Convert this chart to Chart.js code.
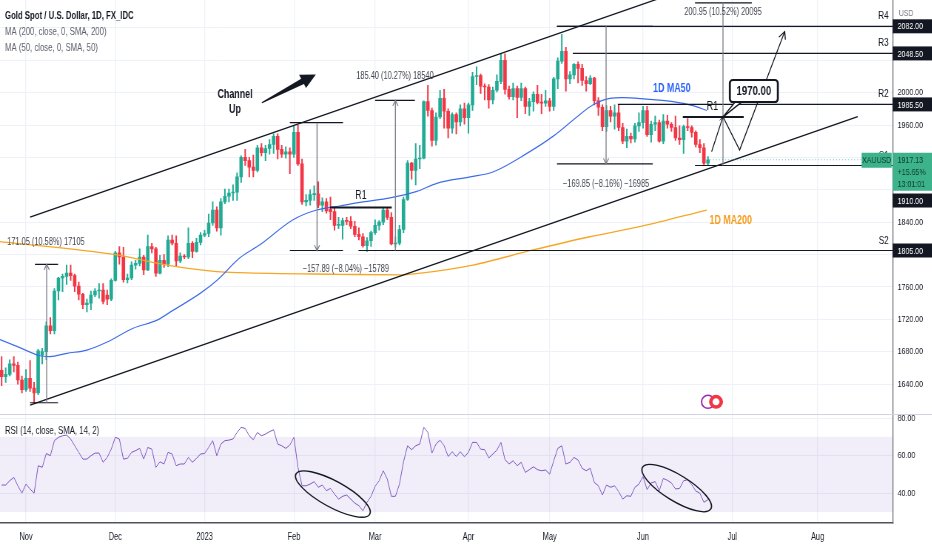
<!DOCTYPE html>
<html>
<head>
<meta charset="utf-8">
<script src="https://cdn.jsdelivr.net/npm/chart.js@4.4.1/dist/chart.umd.min.js"></script>
<style>
  html, body { margin: 0; padding: 0; background: #fff; }
  #wrap { position: relative; width: 932px; height: 550px; overflow: hidden; }
  canvas { position: absolute; left: 0; transform-origin: 0 0; }
  #priceCanvas { top: 0; }
  #rsiCanvas { top: 414px; }
</style>
</head>
<body>
<div id="wrap">
  <canvas id="priceCanvas"></canvas>
  <canvas id="rsiCanvas"></canvas>
</div>
<script>
const FONT = "'Liberation Sans', Arial, sans-serif";
const UP = '#22ab94';
const DOWN = '#f23645';
// the screenshot is squeezed sideways, so draw wider and squeeze the canvas
const SX = 0.74;
const W = Math.round(932 / SX);

// bar index 0 = 1 Nov 2022, one bar per weekday
const firstBar = -6;
const monthTicks = [0, 22, 44, 66, 86, 109, 129, 152, 174, 195];
const monthLabels = ['Nov', 'Dec', '2023', 'Feb', 'Mar', 'Apr', 'May', 'Jun', 'Jul', 'Aug'];
const priceTicks = [1640, 1680, 1720, 1760, 1800, 1840, 1880, 1920, 1960, 2000, 2040, 2080];
const hiddenPriceTicks = [1800, 1880, 1920, 2040, 2080];
const rsiTicks = [40, 60, 80];

// [open, high, low, close]
const candles = [
  // Oct 24 - Oct 31
  [1657,1674,1638,1649],[1649,1660,1642,1652],[1652,1670,1650,1665],[1665,1674,1655,1663],[1663,1667,1640,1645],[1645,1650,1629,1633],
  // Nov 1 - Nov 4
  [1633,1658,1631,1647],[1647,1669,1631,1635],[1635,1642,1617,1629],[1629,1683,1627,1681],
  [1676,1684,1665,1680],[1680,1717,1670,1712],[1712,1722,1702,1706],[1706,1758,1702,1755],[1755,1772,1744,1771],
  [1771,1776,1754,1773],[1773,1787,1763,1777],[1777,1787,1768,1774],[1774,1776,1754,1761],[1761,1766,1744,1751],
  [1751,1752,1733,1738],[1738,1745,1729,1740],[1740,1755,1732,1750],[1750,1758,1748,1755],[1755,1764,1746,1756],
  [1756,1764,1739,1742],[1750,1756,1738,1745],[1745,1770,1743,1768],[1768,1804,1767,1802],[1802,1810,1788,1797],
  // Dec
  [1797,1809,1766,1769],[1769,1776,1765,1771],[1771,1791,1769,1787],[1787,1793,1782,1789],[1789,1807,1786,1797],
  [1797,1799,1775,1781],[1781,1824,1780,1810],[1810,1814,1802,1807],[1807,1809,1773,1777],[1777,1799,1776,1793],
  [1793,1800,1784,1788],[1788,1823,1785,1818],[1818,1824,1812,1814],[1814,1823,1785,1792],[1792,1802,1790,1798],
  [1798,1800,1795,1797],[1797,1833,1795,1814],[1814,1816,1796,1804],[1804,1820,1803,1815],[1815,1827,1812,1824],
  // Jan
  [1824,1830,1822,1826],[1826,1850,1822,1839],[1839,1865,1836,1855],[1855,1859,1829,1833],[1833,1869,1824,1865],
  [1865,1881,1863,1872],[1872,1881,1865,1876],[1876,1886,1867,1877],[1877,1901,1867,1896],[1896,1922,1889,1920],
  [1920,1930,1910,1916],[1916,1920,1896,1908],[1908,1923,1896,1904],[1904,1935,1902,1932],[1932,1937,1922,1926],
  [1926,1935,1916,1931],[1931,1942,1924,1936],[1936,1949,1925,1946],[1946,1949,1918,1930],[1930,1935,1920,1924],
  [1924,1933,1919,1927],[1927,1932,1900,1924],[1924,1959,1920,1951],[1951,1960,1910,1912],[1912,1918,1862,1865],
  // Feb
  [1865,1874,1860,1867],[1867,1880,1861,1874],[1874,1885,1867,1875],[1875,1890,1858,1861],[1861,1870,1853,1865],
  [1865,1869,1851,1854],[1856,1871,1843,1853],[1853,1858,1830,1836],[1836,1846,1832,1836],[1836,1845,1819,1842],
  [1842,1846,1837,1841],[1841,1847,1832,1835],[1835,1841,1822,1825],[1825,1833,1818,1822],[1822,1826,1809,1811],
  [1811,1821,1804,1817],[1817,1829,1810,1827],[1827,1843,1825,1836],[1836,1842,1830,1840],[1840,1858,1837,1855],
  // Mar
  [1855,1858,1843,1846],[1846,1852,1812,1813],[1813,1822,1809,1814],[1814,1836,1812,1831],[1831,1871,1827,1868],
  [1868,1916,1867,1913],[1913,1914,1893,1904],[1904,1937,1886,1918],[1918,1935,1906,1919],[1919,1990,1918,1989],
  [1989,2009,1971,1978],[1978,1981,1934,1941],[1941,1975,1935,1970],[1970,2003,1968,1993],[1993,2004,1956,1977],
  [1977,1980,1944,1956],[1956,1975,1950,1973],[1973,1975,1949,1964],[1964,1985,1959,1980],[1980,1987,1961,1969],
  // Apr
  [1969,1987,1950,1985],[1985,2025,1978,2020],[2020,2032,2010,2021],[2021,2023,1999,2008],[2008,2011,1991,2007],
  [2007,2010,1981,1991],[1991,2007,1986,2003],[2003,2022,2001,2014],[2014,2048,2011,2040],[2040,2048,1998,2004],
  [2004,2008,1992,1995],[1995,2012,1991,2005],[2005,2008,1969,1994],[1994,2012,1990,2005],[2005,2007,1974,1983],
  [1983,1993,1972,1989],[1989,2001,1977,1998],[1998,2009,1986,1988],[1988,1998,1974,1987],[1987,2003,1983,1990],
  // May
  [1990,1993,1977,1983],[1983,2019,1978,2017],[2017,2043,2005,2039],[2039,2072,2036,2051],[2051,2056,2002,2017],
  [2017,2026,2011,2022],[2022,2036,2017,2035],[2035,2038,2012,2030],[2030,2035,2009,2015],[2015,2020,2002,2011],
  [2011,2021,2010,2018],[2018,2019,1985,1990],[1990,1994,1972,1982],[1982,1985,1953,1958],[1958,1984,1952,1978],
  [1978,1983,1964,1971],[1971,1985,1955,1975],[1975,1985,1953,1957],[1957,1962,1937,1940],[1940,1955,1932,1946],
  [1946,1950,1938,1943],[1943,1962,1939,1959],[1959,1975,1952,1963],[1963,1983,1956,1978],[1978,1983,1946,1948],
  // Jun
  [1948,1965,1939,1961],[1961,1971,1953,1963],[1963,1966,1939,1940],[1940,1973,1937,1965],[1965,1972,1956,1961],
  [1961,1963,1952,1957],[1957,1971,1941,1944],[1944,1959,1936,1942],[1942,1960,1925,1958],[1958,1968,1953,1957],
  [1957,1959,1945,1951],[1951,1953,1933,1936],[1936,1942,1926,1932],[1932,1937,1910,1913],[1913,1921,1911,1917.13]
];

// RSI(14), one value per bar
const rsiValues = [
  44.4, 44.4, 46.7, 48.5, 44.0, 40.1,
  44.9, 42.3, 40.1, 54.7, 53.8, 61.2, 60.0, 68.0, 69.8, 70.6,
  71.0, 68.9, 65.3, 61.8, 58.2, 58.2, 60.0, 61.4, 61.4, 56.5,
  59.1, 63.5, 69.8, 68.9, 58.2, 58.6, 61.8, 62.7, 63.9, 58.2,
  64.4, 63.5, 53.8, 56.8, 55.6, 61.8, 60.9, 54.7, 55.6, 55.6,
  59.1, 56.5, 58.6, 60.9, 61.2, 64.4, 68.0, 60.0, 66.2, 68.0,
  68.3, 68.9, 72.4, 75.1, 74.5, 70.6, 68.5, 72.4, 70.6, 71.5,
  72.8, 73.8, 66.2, 65.3, 63.9, 65.7, 69.8, 53.8, 44.0, 44.0,
  44.9, 46.2, 43.2, 44.4, 41.4, 42.6, 39.6, 36.9, 38.4, 39.1,
  36.9, 34.8, 33.4, 30.7, 35.2, 38.4, 43.7, 46.7, 52.0, 47.6,
  38.4, 38.4, 44.9, 56.8, 65.3, 63.2, 65.3, 66.2, 75.1, 72.4,
  61.4, 66.2, 68.3, 65.3, 59.6, 62.1, 59.6, 62.1, 59.5, 61.8,
  67.1, 67.1, 63.5, 63.2, 58.8, 60.9, 63.0, 67.1, 57.9, 55.6,
  57.3, 54.7, 56.5, 51.1, 52.6, 54.1, 52.6, 52.0, 52.4, 50.2,
  57.3, 63.9, 65.3, 55.6, 56.5, 59.1, 57.7, 53.3, 52.0, 53.3,
  45.8, 44.0, 39.1, 44.4, 43.2, 44.0, 40.9, 36.9, 38.7, 38.4,
  43.2, 44.9, 49.0, 41.9, 45.5, 46.2, 41.4, 47.9, 46.9, 45.5,
  42.3, 42.6, 46.7, 47.2, 44.6, 41.2, 40.1, 35.2, 36.6
];

// moving averages: [bar index, price]
const ma50Points = [
  [-6.4,1695],[-1.5,1685],[3.4,1675],[5.9,1674],[10.1,1678],[15,1682],[20,1692],[26.4,1709],
  [32.3,1719],[36.2,1731],[42.9,1752],[47,1768],[52.7,1796],[57.6,1812],[65.8,1843],[71.6,1855],
  [77.3,1860],[83,1865],[89.7,1870],[96.3,1878],[101.2,1888],[109.4,1896],[115,1902],[123.4,1925],
  [129.8,1946],[135.7,1970],[139.7,1985],[143.8,1993],[147,1994],[152.9,1992],[159.4,1989],
  [164.3,1984],[167.7,1978]
];
const ma200Points = [
  [-6.4,1816],[22.4,1799.5],[34.7,1787],[47,1779],[52.7,1777.6],[77.3,1775.6],[92.1,1774.8],
  [96.2,1776.4],[110.1,1787],[124.9,1805.7],[138.9,1822],[151.2,1834.4],[167.7,1855]
];

// drawings, in [bar index, price]
const channelLines = [
  [[1, 1846.2], [160, 2123.4]],
  [[1, 1614.1], [204.9, 1970.3]]
];
const levels = [
  { name: 'R4', price: 2082, from: 130.8 },
  { name: 'R3', price: 2048.5, from: 134.7 },
  { name: 'R2', price: 1985.5, from: 145.8 },
  { name: 'S1', price: 1910, from: 164.8 },
  { name: 'S2', price: 1805, from: 81.9 }
];
const measures = [
  { top: 1787.95, bottom: 1616.9, topFrom: 2.2, bottomFrom: 1, to: 7.9, xv: 5.1, dir: 'up',
    label: '171.05 (10.58%) 17105', lx: 4.9, ly: 1814.7 },
  { top: 1962.89, bottom: 1805, topFrom: 65, bottomFrom: 65, to: 78.1, xv: 71.7, dir: 'down',
    label: '\u2212157.89 (\u22128.04%) \u221215789', lx: 78.8, ly: 1782.2 },
  { top: 1990.4, bottom: 1805, topFrom: 86, bottomFrom: null, to: 95.8, xv: 91, dir: 'up',
    label: '185.40 (10.27%) 18540', lx: 90.9, ly: 2019.8 },
  { top: 2082, bottom: 1912.15, topFrom: 130.8, bottomFrom: 130.8, to: 154.4, xv: 142.9, dir: 'down',
    label: '\u2212169.85 (\u22128.16%) \u221216985', lx: 142.9, ly: 1886.6 },
  { top: 2110.95, bottom: 1910, topFrom: 164.8, bottomFrom: null, to: 178.8, xv: 171.7, dir: null,
    label: '200.95 (10.52%) 20095', lx: 171.7, ly: 2099.5 }
];
const r1Lines = [
  { from: 74.9, to: 90.1, price: 1858.2, lx: 82.5, ly: 1872.4 },
  { from: 161.8, to: 176.8, price: 1970, lx: 169.1, ly: 1982.7 }
];
const projection = [[168.9, 1927.1], [171.7, 1970.3], [175.8, 1929.2], [186.9, 2075.4]];
const target = { text: '1970.00', x: 179.3, y: 2002, px: 171.7, py: 1970 };
const axisBoxes = [
  { text: '2082.00', price: 2082, shift: 0 },
  { text: '2048.50', price: 2048.5, shift: 0 },
  { text: '1985.50', price: 1985.5, shift: 0 },
  { text: '1910.00', price: 1910, shift: 35 },
  { text: '1805.00', price: 1805, shift: 0 }
];
const lastPrice = 1917.13;
const lastChange = '+15.65%';
const countdown = '13:01:01';

const X_MIN = -6.4, X_MAX = 213.5;

function seg(ctx, x1, y1, x2, y2) {
  ctx.beginPath();
  ctx.moveTo(x1, y1);
  ctx.lineTo(x2, y2);
  ctx.stroke();
}
function head(ctx, tx, ty, ang, size) {
  ctx.beginPath();
  ctx.moveTo(tx - size * Math.cos(ang - 0.45), ty - size * Math.sin(ang - 0.45));
  ctx.lineTo(tx, ty);
  ctx.lineTo(tx - size * Math.cos(ang + 0.45), ty - size * Math.sin(ang + 0.45));
  ctx.stroke();
}
function roundRect(ctx, x, y, w, h, r) {
  ctx.beginPath();
  ctx.moveTo(x + r, y);
  ctx.arcTo(x + w, y, x + w, y + h, r);
  ctx.arcTo(x + w, y + h, x, y + h, r);
  ctx.arcTo(x, y + h, x, y, r);
  ctx.arcTo(x, y, x + w, y, r);
  ctx.closePath();
}
// text is placed with screen x (after the squeeze)
function txt(ctx, s, xd, y) {
  ctx.fillText(s, xd / SX, y);
}

const priceOverlay = {
  id: 'priceOverlay',
  afterDatasetsDraw(chart) {
    const { ctx, chartArea: a, scales: { x, y } } = chart;
    const X = v => x.getPixelForValue(v) * SX;
    const Y = v => y.getPixelForValue(v);
    const left = a.left * SX, right = a.right * SX;

    // shapes in screen pixels
    ctx.save();
    ctx.scale(1 / SX, 1);
    ctx.beginPath();
    ctx.rect(left, a.top, right - left, a.bottom - a.top);
    ctx.clip();

    ctx.strokeStyle = '#131722';
    ctx.lineWidth = 1.3;
    channelLines.forEach(l => seg(ctx, X(l[0][0]), Y(l[0][1]), X(l[1][0]), Y(l[1][1])));

    ctx.lineWidth = 1.2;
    levels.forEach(l => seg(ctx, X(l.from), Y(l.price), right, Y(l.price)));

    measures.forEach(m => {
      ctx.strokeStyle = '#131722';
      ctx.lineWidth = 1.2;
      seg(ctx, X(m.topFrom), Y(m.top), X(m.to), Y(m.top));
      if (m.bottomFrom !== null) seg(ctx, X(m.bottomFrom), Y(m.bottom), X(m.to), Y(m.bottom));
      ctx.strokeStyle = '#7b7e88';
      ctx.lineWidth = 1;
      const xv = X(m.xv);
      seg(ctx, xv, Y(m.top), xv, Y(m.bottom));
      if (m.dir === 'up') head(ctx, xv, Y(m.top), -Math.PI / 2, 6);
      if (m.dir === 'down') head(ctx, xv, Y(m.bottom), Math.PI / 2, 6);
    });

    ctx.strokeStyle = '#131722';
    ctx.lineWidth = 2;
    r1Lines.forEach(r => seg(ctx, X(r.from), Y(r.price), X(r.to), Y(r.price)));

    // projected path
    ctx.lineWidth = 1;
    ctx.beginPath();
    projection.forEach((p, i) => i ? ctx.lineTo(X(p[0]), Y(p[1])) : ctx.moveTo(X(p[0]), Y(p[1])));
    ctx.stroke();
    const pn = projection.length;
    const ang = Math.atan2(Y(projection[pn - 1][1]) - Y(projection[pn - 2][1]), X(projection[pn - 1][0]) - X(projection[pn - 2][0]));
    head(ctx, X(projection[pn - 1][0]), Y(projection[pn - 1][1]), ang, 8);

    // 1970 callout
    const bx = X(target.x), by = Y(target.y);
    ctx.fillStyle = '#fff';
    ctx.strokeStyle = '#131722';
    ctx.lineWidth = 1.3;
    ctx.beginPath();
    ctx.moveTo(bx - 18, by + 10);
    ctx.lineTo(X(target.px), Y(target.py));
    ctx.lineTo(bx - 11, by + 10);
    ctx.closePath();
    ctx.fill();
    ctx.stroke();
    roundRect(ctx, bx - 24, by - 11, 48, 22, 3);
    ctx.fill();
    ctx.lineWidth = 2;
    ctx.stroke();

    // Channel Up arrow
    ctx.fillStyle = '#131722';
    const tx0 = X(58.1), ty0 = Y(1987.6), tx1 = X(71.4), ty1 = Y(2022.5);
    const len = Math.hypot(tx1 - tx0, ty1 - ty0);
    const ux = (tx1 - tx0) / len, uy = (ty1 - ty0) / len;
    const nx = -uy, ny = ux;
    const hx = tx1 - ux * 15, hy = ty1 - uy * 15;
    ctx.beginPath();
    ctx.moveTo(tx0 + nx * 0.6, ty0 + ny * 0.6);
    ctx.lineTo(hx + nx * 3, hy + ny * 3);
    ctx.lineTo(hx + nx * 7.5, hy + ny * 7.5);
    ctx.lineTo(tx1, ty1);
    ctx.lineTo(hx - nx * 7.5, hy - ny * 7.5);
    ctx.lineTo(hx - nx * 3, hy - ny * 3);
    ctx.lineTo(tx0 - nx * 0.6, ty0 - ny * 0.6);
    ctx.closePath();
    ctx.fill();

    // last price line
    ctx.strokeStyle = 'rgba(34,171,148,0.6)';
    ctx.lineWidth = 1;
    ctx.setLineDash([1, 2]);
    seg(ctx, X(168.5), Y(lastPrice), right, Y(lastPrice));
    ctx.setLineDash([]);

    // small event icon
    const ix = X(169), iy = Y(1618);
    ctx.lineWidth = 1.5;
    ctx.strokeStyle = '#9c27b0';
    ctx.beginPath(); ctx.arc(ix - 4, iy, 6.5, 0, Math.PI * 2); ctx.stroke();
    ctx.fillStyle = '#f23645';
    ctx.beginPath(); ctx.arc(ix + 4, iy, 7, 0, Math.PI * 2); ctx.fill();
    ctx.fillStyle = '#fff';
    ctx.beginPath(); ctx.arc(ix + 4, iy, 3.5, 0, Math.PI * 2); ctx.fill();
    ctx.restore();

    // texts, drawn unscaled so the squeeze narrows them
    ctx.save();
    ctx.beginPath();
    ctx.rect(a.left, a.top, a.right - a.left, a.bottom - a.top);
    ctx.clip();
    ctx.textAlign = 'center';
    ctx.textBaseline = 'middle';
    ctx.font = '10px ' + FONT;
    ctx.fillStyle = '#434651';
    measures.forEach(m => txt(ctx, m.label, X(m.lx), Y(m.ly)));

    ctx.fillStyle = '#131722';
    ctx.font = '12px ' + FONT;
    r1Lines.forEach(r => txt(ctx, 'R1', X(r.lx), Y(r.ly)));

    ctx.textAlign = 'right';
    ctx.font = '11px ' + FONT;
    levels.forEach(l => txt(ctx, l.name, right - 4, Y(l.price) - 10));

    ctx.textAlign = 'center';
    ctx.font = 'bold 13px ' + FONT;
    txt(ctx, target.text, bx, by + 0.5);

    ctx.font = 'bold 12px ' + FONT;
    ctx.fillStyle = '#2962ff';
    txt(ctx, '1D MA50', X(159.1), Y(2004.6));
    ctx.fillStyle = '#f59d1f';
    txt(ctx, '1D MA200', X(173.6), Y(1841.5));

    ctx.fillStyle = '#131722';
    ctx.font = 'bold 12px ' + FONT;
    txt(ctx, 'Channel', X(51.5), Y(1997.2));
    txt(ctx, 'Up', X(51.5), Y(1978.6));
    ctx.restore();
  },
  afterDraw(chart) {
    const { ctx, chartArea: a, scales: { y } } = chart;
    const Y = v => y.getPixelForValue(v);
    const right = a.right * SX;
    ctx.save();
    ctx.textBaseline = 'middle';

    // legend
    ctx.textAlign = 'left';
    ctx.fillStyle = '#131722';
    ctx.font = 'bold 10.5px ' + FONT;
    txt(ctx, 'Gold Spot / U.S. Dollar, 1D, FX_IDC', 5, 16);
    ctx.fillStyle = '#5d606b';
    ctx.font = '10.5px ' + FONT;
    txt(ctx, 'MA (200, close, 0, SMA, 200)', 5, 32);
    txt(ctx, 'MA (50, close, 0, SMA, 50)', 5, 48);

    ctx.fillStyle = '#787b86';
    ctx.font = '9.5px ' + FONT;
    txt(ctx, 'USD', right + 6, 13);

    // symbol tag and last price
    const ly = Y(lastPrice);
    ctx.fillStyle = '#3db38c';
    ctx.fillRect((right - 31) / SX, ly - 7, 30 / SX, 15);
    ctx.fillRect(a.right, ly - 7, 39 / SX + 2, 38);
    ctx.fillStyle = '#0f3a2d';
    ctx.font = '9.5px ' + FONT;
    ctx.textAlign = 'center';
    txt(ctx, 'XAUUSD', right - 16, ly + 0.5);
    ctx.textAlign = 'left';
    txt(ctx, lastPrice.toFixed(2), right + 5, ly + 1);
    txt(ctx, lastChange, right + 5, ly + 13);
    txt(ctx, countdown, right + 5, ly + 25);

    // level price tags
    axisBoxes.forEach(b => {
      const cy = Y(b.price) + b.shift;
      ctx.fillStyle = '#131722';
      ctx.fillRect(a.right, cy - 7, 39 / SX + 2, 14);
      ctx.fillStyle = '#fff';
      txt(ctx, b.text, right + 5, cy + 0.5);
    });
    ctx.restore();
  }
};

const rsiOverlay = {
  id: 'rsiOverlay',
  beforeDatasetsDraw(chart) {
    const { ctx, chartArea: a, scales: { y } } = chart;
    ctx.save();
    ctx.fillStyle = 'rgba(126,87,194,0.1)';
    ctx.fillRect(a.left, y.getPixelForValue(70), a.right - a.left, y.getPixelForValue(30) - y.getPixelForValue(70));
    ctx.restore();
  },
  afterDatasetsDraw(chart) {
    const { ctx, scales: { x, y } } = chart;
    ctx.save();
    ctx.scale(1 / SX, 1);
    ctx.strokeStyle = '#131722';
    ctx.lineWidth = 1.3;
    [[75.6, 39.6, 42, 13, 0.5], [160.3, 42.8, 40, 13, 0.55]].forEach(e => {
      ctx.beginPath();
      ctx.ellipse(x.getPixelForValue(e[0]) * SX, y.getPixelForValue(e[1]), e[2], e[3], e[4], 0, Math.PI * 2);
      ctx.stroke();
    });
    ctx.restore();
    ctx.save();
    ctx.fillStyle = '#131722';
    ctx.font = '10.5px ' + FONT;
    ctx.textAlign = 'left';
    ctx.textBaseline = 'middle';
    txt(ctx, 'RSI (14, close, SMA, 14, 2)', 5, 17);
    ctx.restore();
  },
  afterDraw(chart) {
    const { ctx } = chart;
    ctx.save();
    ctx.strokeStyle = '#d1d4dc';
    ctx.lineWidth = 1;
    seg(ctx, 0, 0.5, chart.width, 0.5);
    ctx.restore();
  }
};

const noPad = s => { s.paddingTop = 0; s.paddingBottom = 0; s.paddingLeft = 0; s.paddingRight = 0; };

const priceCanvas = document.getElementById('priceCanvas');
const rsiCanvas = document.getElementById('rsiCanvas');
priceCanvas.width = W;
priceCanvas.height = 414;
rsiCanvas.width = W;
rsiCanvas.height = 136;

const priceChart = new Chart(priceCanvas, {
  type: 'bar',
  data: {
    datasets: [
      {
        type: 'line',
        data: ma50Points.map(p => ({ x: p[0], y: p[1] })),
        borderColor: '#3d6be8',
        borderWidth: 1.2,
        pointRadius: 0,
        cubicInterpolationMode: 'monotone',
        order: 0
      },
      {
        type: 'line',
        data: ma200Points.map(p => ({ x: p[0], y: p[1] })),
        borderColor: '#f5a623',
        borderWidth: 1.3,
        pointRadius: 0,
        cubicInterpolationMode: 'monotone',
        order: 0
      },
      {
        data: candles.map((c, i) => ({ x: firstBar + i, y: [Math.min(c[0], c[3]), Math.max(c[0], c[3])] })),
        backgroundColor: candles.map(c => c[3] >= c[0] ? UP : DOWN),
        barThickness: 4,
        minBarLength: 1,
        grouped: false,
        order: 1
      },
      {
        data: candles.map((c, i) => ({ x: firstBar + i, y: [c[2], c[1]] })),
        backgroundColor: candles.map(c => c[3] >= c[0] ? UP : DOWN),
        barThickness: 1.35,
        grouped: false,
        order: 2
      }
    ]
  },
  options: {
    responsive: false,
    animation: false,
    devicePixelRatio: 1,
    layout: { padding: 0 },
    plugins: { legend: { display: false }, tooltip: { enabled: false } },
    scales: {
      x: {
        type: 'linear',
        min: X_MIN,
        max: X_MAX,
        offset: false,
        afterBuildTicks: s => { s.ticks = monthTicks.map(v => ({ value: v })); },
        afterFit: s => { s.height = 0; noPad(s); },
        ticks: { display: false },
        grid: { color: '#eef1f7', drawTicks: false, offset: false, lineWidth: 1.3 },
        border: { display: false }
      },
      y: {
        position: 'right',
        min: 1603,
        max: 2114.5,
        afterBuildTicks: s => { s.ticks = priceTicks.map(v => ({ value: v })); },
        afterFit: s => { s.width = 39 / SX; noPad(s); },
        ticks: {
          callback: v => hiddenPriceTicks.includes(v) ? '' : v.toFixed(2),
          font: { family: FONT, size: 9.5 },
          color: '#131722',
          padding: 5 / SX
        },
        grid: { color: '#eef1f7', drawTicks: false },
        border: { color: '#787b86', width: 1.35 }
      }
    }
  },
  plugins: [priceOverlay]
});

const rsiChart = new Chart(rsiCanvas, {
  type: 'line',
  data: {
    datasets: [{
      data: rsiValues.map((v, i) => ({ x: firstBar + i, y: v })),
      borderColor: '#7e57c2',
      borderWidth: 1,
      pointRadius: 0,
      tension: 0
    }]
  },
  options: {
    responsive: false,
    animation: false,
    devicePixelRatio: 1,
    layout: { padding: 0 },
    plugins: { legend: { display: false }, tooltip: { enabled: false } },
    scales: {
      x: {
        type: 'linear',
        min: X_MIN,
        max: X_MAX,
        afterBuildTicks: s => { s.ticks = monthTicks.map(v => ({ value: v })); },
        afterFit: s => { s.height = 27; noPad(s); },
        ticks: {
          autoSkip: false,
          maxRotation: 0,
          callback: v => monthLabels[monthTicks.indexOf(v)],
          font: { family: FONT, size: 10 },
          color: '#131722',
          padding: 8
        },
        grid: { color: '#eef1f7', drawTicks: false, lineWidth: 1.3 },
        border: { color: '#50535e', width: 1.5 }
      },
      y: {
        position: 'right',
        min: 24.2,
        max: 82.2,
        afterBuildTicks: s => { s.ticks = rsiTicks.map(v => ({ value: v })); },
        afterFit: s => { s.width = 39 / SX; noPad(s); },
        ticks: {
          callback: v => v.toFixed(2),
          font: { family: FONT, size: 9.5 },
          color: '#131722',
          padding: 5 / SX
        },
        grid: { color: '#eef1f7', drawTicks: false },
        border: { color: '#787b86', width: 1.35 }
      }
    }
  },
  plugins: [rsiOverlay]
});

// canvases are drawn W wide, then squeezed to 932 on screen
[priceChart, rsiChart].forEach(c => { c.canvas.style.transform = 'scaleX(' + SX + ')'; });
</script>
</body>
</html>
